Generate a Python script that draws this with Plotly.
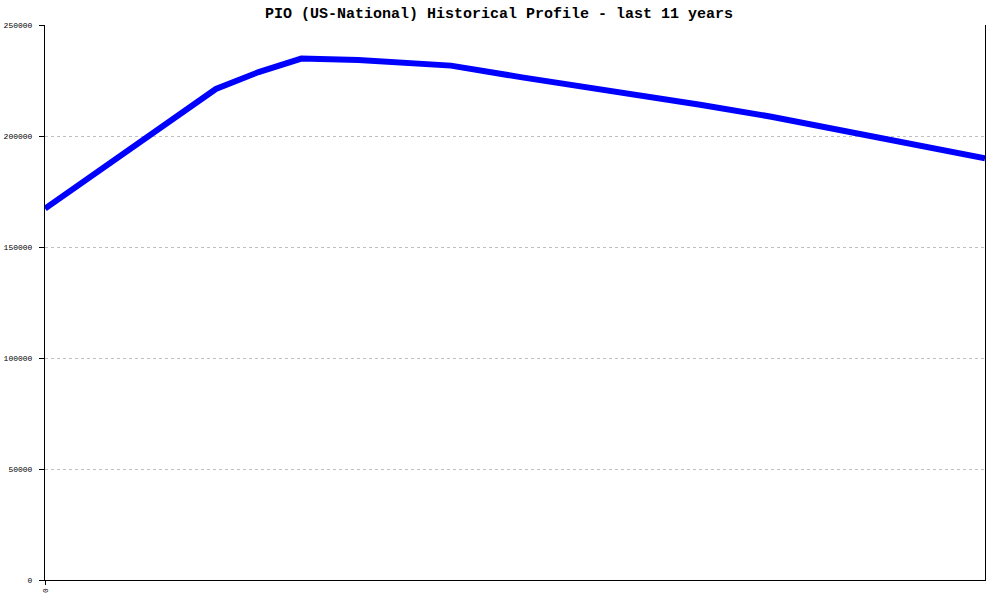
import plotly.graph_objects as go

# Data (x = months from start of the 11-year window)
months = [0, 13, 24, 30, 36, 44, 57, 67, 84, 92, 102, 132]
values = [167300, 196500, 221200, 228800, 234900, 234200, 231700, 226400, 218200, 214100, 208700, 189900]

y_ticks = [0, 50000, 100000, 150000, 200000, 250000]
x_ticks = [0]
x_tick_labels = ["0"]

title = "PIO (US-National) Historical Profile - last 11 years"
mono = "Liberation Mono, Courier New, monospace"

fig = go.Figure()
fig.add_trace(go.Scatter(
    x=months, y=values, mode="lines",
    line=dict(color="#0000ff", width=6),
    hoverinfo="skip", showlegend=False,
))

fig.update_layout(
    width=1000, height=600,
    paper_bgcolor="white", plot_bgcolor="white",
    margin=dict(l=45, r=15, t=25, b=20, autoexpand=False),
    title=dict(text=title, x=0.499, xanchor="center", xref="container",
               y=1 - 13 / 600, yref="container", yanchor="middle", automargin=False,
               font=dict(family=mono, size=15, color="black", weight="bold")),
    font=dict(family=mono, size=8, color="black"),
    hovermode=False,
)

fig.update_xaxes(
    range=[0, 132], tickvals=x_ticks, ticktext=x_tick_labels, tickangle=-90,
    automargin=False,
    showgrid=False, zeroline=False, showline=True, linecolor="black", linewidth=1,
    ticks="outside", ticklen=4, tickcolor="black",
    tickfont=dict(family=mono, size=8, color="black"),
)
fig.update_yaxes(
    range=[0, 250000], tickvals=y_ticks, ticktext=[str(v) for v in y_ticks],
    automargin=False, ticklabelstandoff=5,
    showgrid=True, gridcolor="#c0c0c0", griddash="dot", gridwidth=1,
    zeroline=False, showline=True, mirror=True, linecolor="black", linewidth=1,
    ticks="outside", ticklen=5, tickcolor="black",
    tickfont=dict(family=mono, size=8, color="black"),
)

fig.write_html("out.html", config={"displayModeBar": False},
               post_script="document.body.style.margin='0';")
